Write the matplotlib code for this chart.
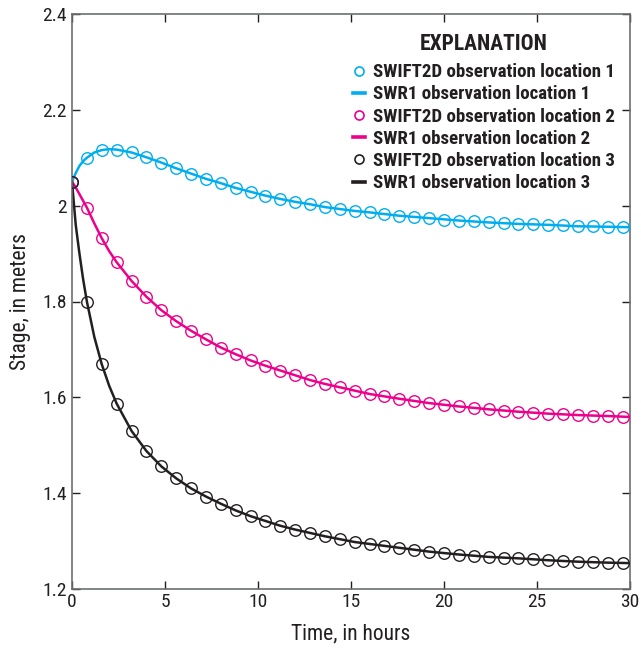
import matplotlib
matplotlib.use("Agg")
import matplotlib.pyplot as plt
from matplotlib import font_manager
from matplotlib.lines import Line2D


# SWIFT2D observations, every 0.8 hours
OBS_TIME = [
	0.0, 0.8, 1.6, 2.4, 3.2, 4.0, 4.8, 5.6, 6.4, 7.2, 8.0, 8.8, 9.6, 10.4, 11.2, 12.0, 12.8, 13.6, 14.4,
	15.2, 16.0, 16.8, 17.6, 18.4, 19.2, 20.0, 20.8, 21.6, 22.4, 23.2, 24.0, 24.8, 25.6, 26.4, 27.2, 28.0,
	28.8, 29.6,
]
OBS_LOC1 = [
	2.050, 2.100, 2.116, 2.117, 2.111, 2.101, 2.090, 2.078, 2.067, 2.056, 2.047, 2.037, 2.029, 2.021,
	2.014, 2.008, 2.003, 1.997, 1.993, 1.989, 1.986, 1.982, 1.979, 1.977, 1.974, 1.971, 1.969, 1.967,
	1.965, 1.964, 1.962, 1.961, 1.960, 1.959, 1.957, 1.957, 1.956, 1.955,
]
OBS_LOC2 = [
	2.050, 1.996, 1.932, 1.882, 1.843, 1.810, 1.782, 1.759, 1.739, 1.721, 1.704, 1.690, 1.677, 1.666,
	1.656, 1.646, 1.636, 1.628, 1.621, 1.614, 1.607, 1.602, 1.597, 1.592, 1.588, 1.584, 1.581, 1.577,
	1.575, 1.572, 1.570, 1.568, 1.566, 1.565, 1.563, 1.562, 1.561, 1.559,
]
OBS_LOC3 = [
	2.050, 1.800, 1.669, 1.587, 1.530, 1.488, 1.456, 1.431, 1.410, 1.393, 1.378, 1.364, 1.352, 1.342,
	1.332, 1.324, 1.317, 1.310, 1.304, 1.298, 1.294, 1.289, 1.286, 1.282, 1.278, 1.275, 1.272, 1.269,
	1.267, 1.265, 1.264, 1.262, 1.260, 1.259, 1.257, 1.256, 1.255, 1.255,
]

# SWR1 simulated stage (denser near the start where the curves bend)
SWR_TIME = [
	0.0, 0.2, 0.4, 0.6, 0.8, 1.2, 1.6, 2.0, 2.4, 3.2, 4.0, 4.8, 5.6, 6.4, 7.2, 8.0, 8.8, 9.6, 10.4, 11.2,
	12.0, 12.8, 13.6, 14.4, 15.2, 16.0, 17.6, 19.2, 20.8, 22.4, 24.0, 25.6, 27.2, 28.8, 30.0,
]
SWR_LOC1 = [
	2.050, 2.068, 2.083, 2.093, 2.100, 2.111, 2.116, 2.118, 2.117, 2.111, 2.101, 2.090, 2.078, 2.067,
	2.056, 2.047, 2.037, 2.029, 2.021, 2.014, 2.008, 2.003, 1.997, 1.993, 1.989, 1.986, 1.979, 1.974,
	1.969, 1.965, 1.962, 1.960, 1.957, 1.956, 1.955,
]
SWR_LOC2 = [
	2.050, 2.038, 2.024, 2.010, 1.996, 1.963, 1.932, 1.905, 1.882, 1.843, 1.810, 1.782, 1.759, 1.739,
	1.721, 1.704, 1.690, 1.677, 1.666, 1.656, 1.646, 1.636, 1.628, 1.621, 1.614, 1.607, 1.597, 1.588,
	1.581, 1.575, 1.570, 1.566, 1.563, 1.561, 1.559,
]
SWR_LOC3 = [
	2.050, 1.960, 1.900, 1.846, 1.800, 1.726, 1.669, 1.624, 1.587, 1.530, 1.488, 1.456, 1.431, 1.410,
	1.393, 1.378, 1.364, 1.352, 1.342, 1.332, 1.324, 1.317, 1.310, 1.304, 1.298, 1.294, 1.286, 1.278,
	1.272, 1.267, 1.264, 1.260, 1.257, 1.255, 1.254,
]

X_TICKS = [0, 5, 10, 15, 20, 25, 30]
Y_TICKS = [1.2, 1.4, 1.6, 1.8, 2.0, 2.2, 2.4]
Y_TICK_LABELS = ["1.2", "1.4", "1.6", "1.8", "2", "2.2", "2.4"]

COLOR_LOC1 = "#00aeef"
COLOR_LOC2 = "#ec008c"
COLOR_LOC3 = "#231f20"
TEXT_COLOR = "#231f20"


def pickFont():
	# the original uses a condensed face; take one if the machine has it
	entries = font_manager.fontManager.ttflist
	names = {entry.name for entry in entries}
	for name in ["Liberation Sans Narrow", "Roboto Condensed", "Open Sans Condensed", "Noto Sans Condensed"]:
		if name in names:
			return [name, "DejaVu Sans"], "normal", True
	for entry in entries:
		if entry.name == "DejaVu Sans" and entry.stretch in ("condensed", "semi-condensed"):
			return ["DejaVu Sans"], "condensed", True
	return ["DejaVu Sans"], "normal", False


def drawSeries(ax, obs_values, swr_values, color):
	ax.plot(SWR_TIME, swr_values, color=color, linewidth=1.8, zorder=2)
	ax.plot(
		OBS_TIME, obs_values, linestyle="none", marker="o", markersize=8.3,
		markerfacecolor="none", markeredgecolor=color, markeredgewidth=1.0, zorder=3,
	)


def buildLegend(ax, family, stretch, narrow):
	handles = []
	labels = []
	for index, color in enumerate([COLOR_LOC1, COLOR_LOC2, COLOR_LOC3], start=1):
		handles.append(Line2D([], [], linestyle="none", marker="o", markersize=6.5,
			markerfacecolor="none", markeredgecolor=color, markeredgewidth=1.2))
		labels.append(f"SWIFT2D observation location {index}")
		handles.append(Line2D([], [], color=color, linewidth=2.6))
		labels.append(f"SWR1 observation location {index}")

	label_size = 13.6 if narrow else 9.6
	title_size = 15.5 if narrow else 11.5
	legend = ax.legend(
		handles, labels, title="EXPLANATION", loc="upper left",
		bbox_to_anchor=((353 - 72) / 558, 1 - (33 - 14) / 575),
		frameon=False, borderpad=0, borderaxespad=0, handlelength=0.62, handletextpad=0.45,
		labelspacing=0.22 if narrow else 0.62,
		prop={"family": family, "weight": "bold", "size": label_size, "stretch": stretch},
	)
	legend.get_title().set_fontproperties(
		{"family": family, "weight": "bold", "size": title_size, "stretch": stretch}
	)
	legend._legend_box.sep = 6
	for text in legend.get_texts():
		text.set_color(TEXT_COLOR)
	legend.get_title().set_color(TEXT_COLOR)


def main():
	family, stretch, narrow = pickFont()
	plt.rcParams["font.family"] = family
	plt.rcParams["font.stretch"] = stretch

	fig = plt.figure(figsize=(6.41, 6.48), dpi=100)
	ax = fig.add_axes([72 / 641, 1 - 589 / 648, (630 - 72) / 641, (589 - 14) / 648])

	drawSeries(ax, OBS_LOC1, SWR_LOC1, COLOR_LOC1)
	drawSeries(ax, OBS_LOC2, SWR_LOC2, COLOR_LOC2)
	drawSeries(ax, OBS_LOC3, SWR_LOC3, COLOR_LOC3)

	tick_size = 14 if narrow else 11
	label_size = 15.5 if narrow else 12

	ax.set_xlim(0, 30)
	ax.set_ylim(1.2, 2.4)
	ax.set_xticks(X_TICKS)
	ax.set_yticks(Y_TICKS)
	ax.set_yticklabels(Y_TICK_LABELS)
	ax.tick_params(axis="both", direction="in", length=6, width=1, labelsize=tick_size,
		colors=TEXT_COLOR, top=True, right=True, labeltop=False, labelright=False)
	ax.tick_params(axis="x", pad=3)
	ax.tick_params(axis="y", pad=4)
	for spine in ax.spines.values():
		spine.set_color("#6d6e71")
		spine.set_linewidth(1.2)

	ax.set_xlabel("Time, in hours", fontsize=label_size, color=TEXT_COLOR, labelpad=9)
	ax.set_ylabel("Stage, in meters", fontsize=label_size, color=TEXT_COLOR, labelpad=8)

	buildLegend(ax, family, stretch, narrow)

	fig.savefig("out.png", dpi=100)
	plt.close(fig)


if __name__ == "__main__":
	main()
